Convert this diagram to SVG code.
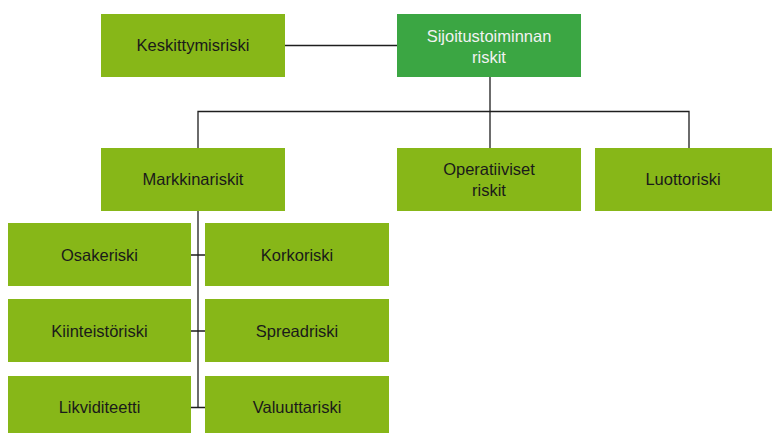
<svg xmlns="http://www.w3.org/2000/svg" width="772" height="433" viewBox="0 0 772 433">
<style>
.n{fill:#87b718}
.r{fill:#3ba643}
text{font-family:"Liberation Sans",Arial,sans-serif;font-size:16.5px;fill:#1a1a1a;text-anchor:middle}
.w{fill:#f2f2f2}
.c{fill:none;stroke:#1e1e1e;stroke-width:1.3}
</style>
<rect width="772" height="433" fill="#ffffff"/>
<g id="connectors">
<path class="c" d="M285 45.5H397"/>
<path class="c" d="M490 77V111.5M198 148V111.5H689V148"/>
<path class="c" d="M490 111.5V148"/>
<path class="c" d="M198 211V407.5"/>
<path class="c" d="M191 255H205M191 331H205M191 407.5H205"/>
</g>
<g id="keskittymisriski"><rect class="n" x="101" y="14" width="184" height="63"/><text x="193" y="51">Keskittymisriski</text></g>
<g id="sijoitustoiminnan"><rect class="r" x="397" y="14" width="184" height="63"/><text class="w" x="489" y="42">Sijoitustoiminnan</text><text class="w" x="489" y="63">riskit</text></g>
<g id="markkinariskit"><rect class="n" x="101" y="148" width="184" height="63"/><text x="193" y="185">Markkinariskit</text></g>
<g id="operatiiviset"><rect class="n" x="397" y="148" width="184" height="63"/><text x="489" y="175">Operatiiviset</text><text x="489" y="196">riskit</text></g>
<g id="luottoriski"><rect class="n" x="595" y="148" width="177" height="63"/><text x="683" y="185">Luottoriski</text></g>
<g id="osakeriski"><rect class="n" x="8" y="223" width="183" height="63"/><text x="99.5" y="260.5">Osakeriski</text></g>
<g id="korkoriski"><rect class="n" x="205" y="223" width="184" height="63"/><text x="297" y="260.5">Korkoriski</text></g>
<g id="kiinteistoriski"><rect class="n" x="8" y="299" width="183" height="63"/><text x="99.5" y="336.5">Kiinteistöriski</text></g>
<g id="spreadriski"><rect class="n" x="205" y="299" width="184" height="63"/><text x="297" y="336.5">Spreadriski</text></g>
<g id="likviditeetti"><rect class="n" x="8" y="376" width="183" height="57"/><text x="99.5" y="413">Likviditeetti</text></g>
<g id="valuuttariski"><rect class="n" x="205" y="376" width="184" height="57"/><text x="297" y="413">Valuuttariski</text></g>
</svg>
